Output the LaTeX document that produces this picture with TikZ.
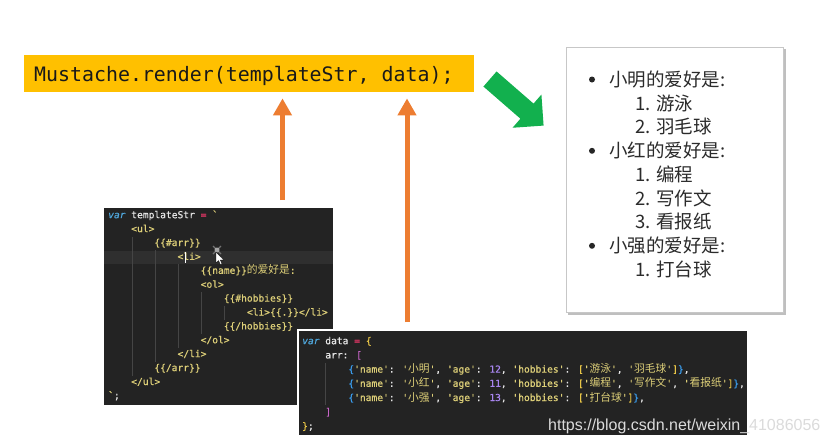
\documentclass[tikz,border=0pt]{standalone}
\usepackage{fontspec}
\usetikzlibrary{arrows.meta}
\setmainfont{Liberation Sans}
\newfontfamily\monof{DejaVu Sans Mono}
\newfontfamily\codef{DejaVu Sans Mono}[FakeBold=0.7]
\newfontfamily\zhf{Noto Sans CJK SC}
\newfontfamily\zhc{Noto Sans CJK SC}[Scale=1.12]
\definecolor{codebg}{HTML}{232323}
\definecolor{codehl}{HTML}{2F2F2F}
\definecolor{guide}{HTML}{454545}
\definecolor{cfg}{HTML}{E6E6E6}
\definecolor{ckw}{HTML}{4FA6DB}
\definecolor{cpk}{HTML}{F0386B}
\definecolor{cstr}{HTML}{DDCF78}
\definecolor{cnum}{HTML}{A885F0}
\definecolor{cgold}{HTML}{E8C547}
\definecolor{corch}{HTML}{C865C8}
\definecolor{cblue}{HTML}{3A9BEA}
\definecolor{mustbg}{HTML}{FFC000}
\definecolor{oarr}{HTML}{ED7D31}
\definecolor{garr}{HTML}{12B04E}
\definecolor{paneltext}{HTML}{2B2B2B}
\newcommand\hs[1]{\textcolor{cstr}{'{\zhc #1}'}}
\newcommand\objline[3]{\textcolor{cblue}{\{}\textcolor{cstr}{'name'}: \hs{#1}, \textcolor{cstr}{'age'}: \textcolor{cnum}{#2}, \textcolor{cstr}{'hobbies'}: \textcolor{cgold}{[}#3\textcolor{cgold}{]}\textcolor{cblue}{\}},}
\tikzset{
  codebox/.style={anchor=north west, fill=codebg, inner sep=0pt, outer sep=0pt},
  codeline/.style={anchor=base west, inner sep=0pt, text=cfg, font=\codef\fontsize{9.6}{11}\selectfont},
  tplline/.style={codeline, text=cstr},
  guideline/.style={draw=guide, line width=0.6pt},
  oarrow/.style={draw=oarr, line width=5pt, -{Triangle[width=18pt,length=17pt]}},
  paneltxt/.style={anchor=base west, inner sep=0pt, text=paneltext, font=\zhf\fontsize{18.5}{22}\selectfont},
  bul/.style={circle, fill=black!85, inner sep=0pt, minimum size=6pt},
}
\begin{document}
\begin{tikzpicture}[x=1pt,y=-1pt]
\useasboundingbox (0,0) rectangle (830,445);
\fill[white] (0,0) rectangle (830,445);

% Mustache call
\node[anchor=north west, fill=mustbg, minimum width=450pt, minimum height=37pt, inner sep=0pt] (must) at (24,55) {};
\node[anchor=base west, inner sep=0pt, text=black!90, font=\monof\fontsize{19.9}{22}\selectfont] (musttxt) at (34,81.5) {Mustache.render(templateStr, data);};

% green arrow
\begin{scope}[shift={(490,79)}, rotate=-41]
\fill[garr] (0,-10) -- (49,-10) -- (49,-22) -- (71,0) -- (49,22) -- (49,10) -- (0,10) -- cycle;
\end{scope}

% output panel
\fill[black!25] (568,49) rectangle (785.5,315);
\node[anchor=north west, fill=white, draw=black!22, line width=1.2pt, minimum width=217pt, minimum height=265pt, inner sep=0pt] (panel) at (566,47) {};
\node[bul] (b1) at (592,79.5) {};
\node[paneltxt] (p1) at (609,86.3) {小明的爱好是:};
\node[paneltxt] (p2) at (635,110.0) {1. 游泳};
\node[paneltxt] (p3) at (635,133.8) {2. 羽毛球};
\node[bul] (b2) at (592,150.8) {};
\node[paneltxt] (p4) at (609,157.5) {小红的爱好是:};
\node[paneltxt] (p5) at (635,181.3) {1. 编程};
\node[paneltxt] (p6) at (635,205.0) {2. 写作文};
\node[paneltxt] (p7) at (635,228.8) {3. 看报纸};
\node[bul] (b3) at (592,245.8) {};
\node[paneltxt] (p8) at (609,252.5) {小强的爱好是:};
\node[paneltxt] (p9) at (635,276.3) {1. 打台球};

% template code box
\node[codebox, minimum width=229pt, minimum height=197pt] (tpl) at (104,208) {};
\fill[codehl] (104,250.5) rectangle (333,264);
\draw[guideline] (132,237) -- (132,376);
\draw[guideline] (155,250) -- (155,362);
\draw[guideline] (178,264) -- (178,348);
\draw[guideline] (201,292) -- (201,334);
\draw[guideline] (224,306) -- (224,320);
\node[codeline] (t0) at (108,218.2) {\textcolor{ckw}{\itshape var} templateStr \textcolor{cpk}{=} \textcolor{cstr}{`}};
\node[tplline] (t1) at (131.1,232.1) {<ul>};
\node[tplline] (t2) at (154.2,246.0) {\{\{\#arr\}\}};
\node[tplline] (t3) at (177.4,259.9) {<li>};
\draw[white, line width=0.7pt] (185,251.5) -- (185,263);
\node[tplline] (t4) at (200.5,273.8) {\{\{name\}\}{\zhc 的爱好是}:};
\node[tplline] (t5) at (200.5,287.7) {<ol>};
\node[tplline] (t6) at (223.6,301.6) {\{\{\#hobbies\}\}};
\node[tplline] (t7) at (246.7,315.5) {<li>\{\{.\}\}</li>};
\node[tplline] (t8) at (223.6,329.4) {\{\{/hobbies\}\}};
\node[tplline] (t9) at (200.5,343.3) {</ol>};
\node[tplline] (t10) at (177.4,357.2) {</li>};
\node[tplline] (t11) at (154.2,371.1) {\{\{/arr\}\}};
\node[tplline] (t12) at (131.1,385.0) {</ul>};
\node[codeline] (t13) at (108,398.9) {\textcolor{cstr}{`};};
% mouse cursor
\draw[black!55, line width=1.2pt] (213,246) -- (221,254) (221,246) -- (213,254);
\fill[black!35] (217,250) circle (2.5pt);
\fill[white, draw=black, line width=0.3pt] (216,252) -- (216,263) -- (218.6,260.6) -- (220.4,264.6) -- (222,263.9) -- (220.2,259.9) -- (223.6,259.9) -- cycle;

% data code box
\node[codebox, draw=white, line width=1.5pt, minimum width=450pt, minimum height=106pt] (data) at (298,330) {};
\draw[guideline] (325,363) -- (325,405);
\node[codeline] (d0) at (302,344.2) {\textcolor{ckw}{\itshape var} data \textcolor{cpk}{=} \textcolor{cgold}{\{}};
\node[codeline] (d1) at (325.1,358.4) {arr: \textcolor{corch}{[}};
\node[codeline] (d2) at (348.2,372.6) {\objline{小明}{12}{\hs{游泳}, \hs{羽毛球}}};
\node[codeline] (d3) at (348.2,386.8) {\objline{小红}{11}{\hs{编程}, \hs{写作文}, \hs{看报纸}}};
\node[codeline] (d4) at (348.2,401.0) {\objline{小强}{13}{\hs{打台球}}};
\node[codeline] (d5) at (325.1,415.2) {\textcolor{corch}{]}};
\node[codeline] (d6) at (302,429.4) {\textcolor{cgold}{\}};};

% orange arrows
\coordinate (a1) at ([xshift=64pt,yshift=8pt]tpl.north);
\coordinate (a2) at ([xshift=-116pt,yshift=8pt]data.north);
\coordinate (mtip) at ([yshift=-6pt]must.south);
\draw[oarrow] (a1) -- (a1 |- mtip);
\draw[oarrow] (a2) -- (a2 |- mtip);

% watermark
\node[anchor=base west, inner sep=0pt, text=black!14, font=\fontsize{16}{18}\selectfont] (wm) at (548,430.5) {https://blog.csdn.net/weixin\_41086056};
\end{tikzpicture}
\end{document}
